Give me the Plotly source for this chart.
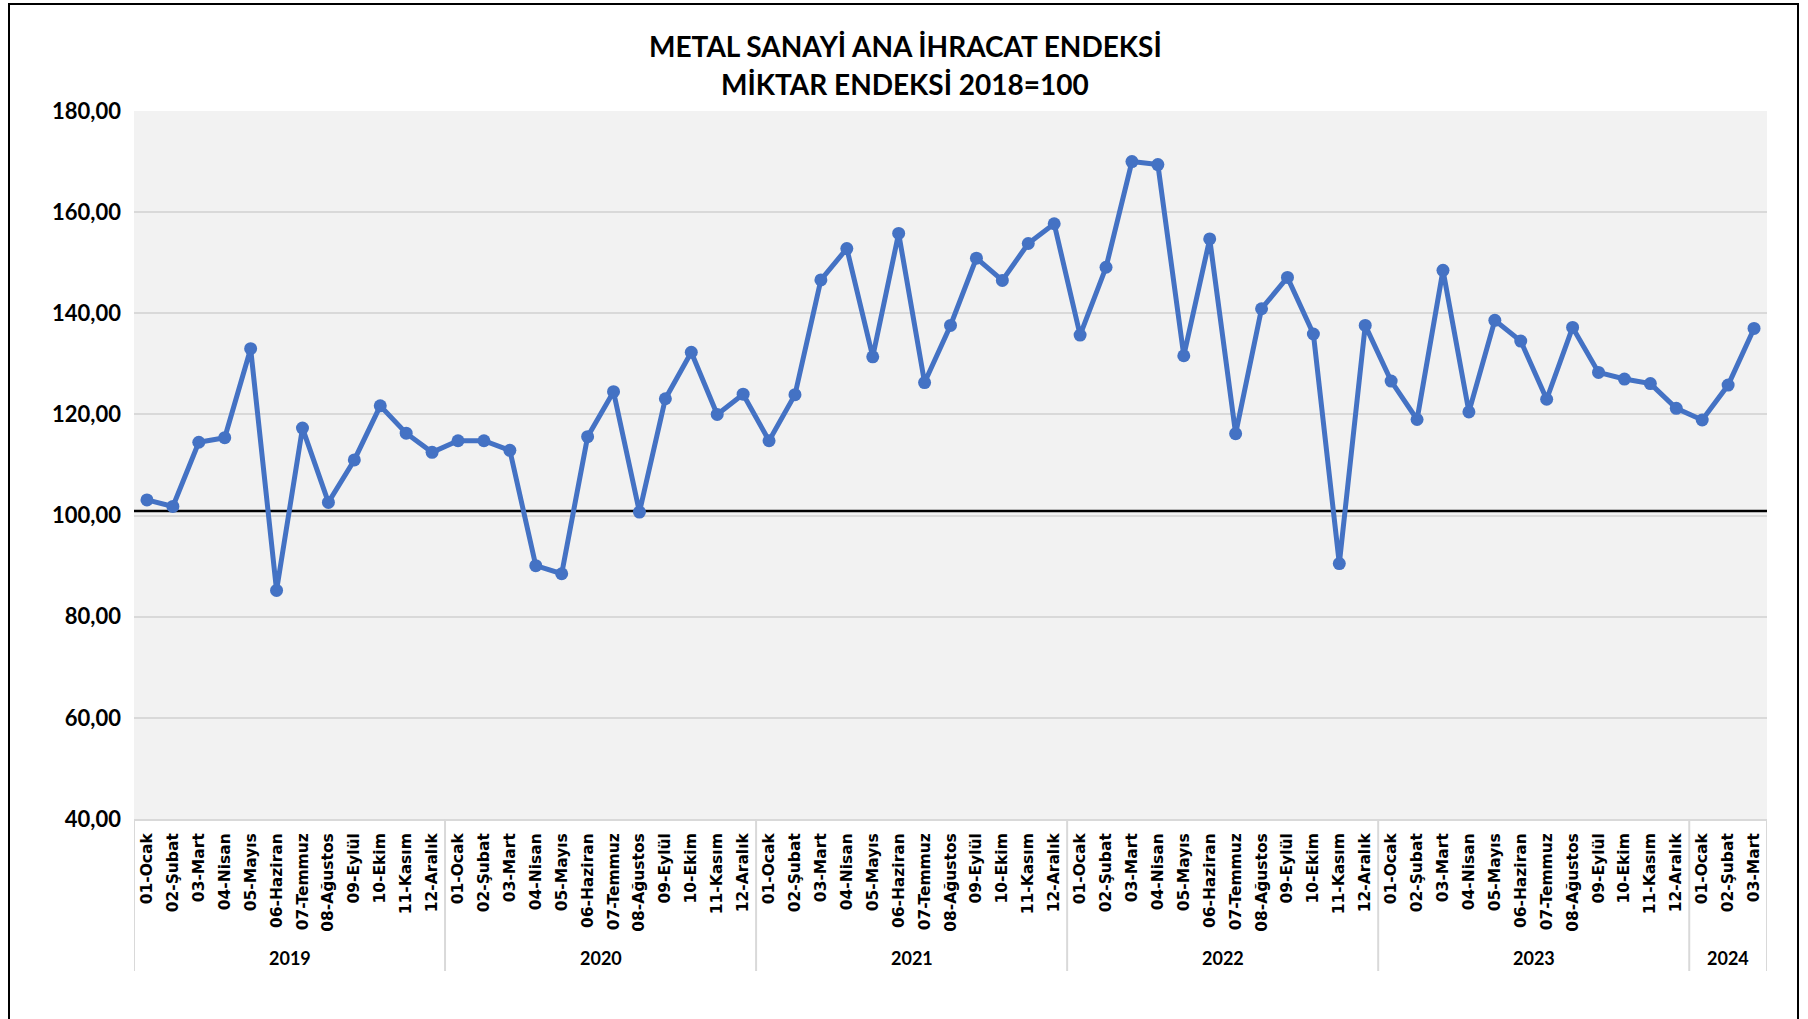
import plotly.graph_objects as go

# ---- data ----
title_line1 = "METAL SANAYİ ANA İHRACAT ENDEKSİ"
title_line2 = "MİKTAR ENDEKSİ 2018=100"

month_labels = ["01-Ocak", "02-Şubat", "03-Mart", "04-Nisan", "05-Mayıs", "06-Haziran",
                "07-Temmuz", "08-Ağustos", "09-Eylül", "10-Ekim", "11-Kasım", "12-Aralık"]
years = ["2019", "2020", "2021", "2022", "2023", "2024"]
months_per_year = [12, 12, 12, 12, 12, 3]

values_2019 = [103.1, 101.8, 114.5, 115.4, 133.0, 85.2, 117.3, 102.6, 111.0, 121.7, 116.3, 112.5]
values_2020 = [114.8, 114.8, 112.9, 90.1, 88.5, 115.6, 124.5, 100.7, 123.1, 132.3, 120.0, 124.0]
values_2021 = [114.8, 123.9, 146.6, 152.8, 131.4, 155.8, 126.3, 137.6, 150.9, 146.5, 153.8, 157.7]
values_2022 = [135.7, 149.1, 170.0, 169.4, 131.6, 154.7, 116.2, 140.9, 147.1, 135.9, 90.5, 137.6]
values_2023 = [126.6, 119.0, 148.5, 120.5, 138.6, 134.5, 123.0, 137.2, 128.3, 127.0, 126.1, 121.2]
values_2024 = [118.9, 125.8, 137.0]

baseline_value = 100.9
y_ticks = [40, 60, 80, 100, 120, 140, 160, 180]

# ---- build series ----
all_values = values_2019 + values_2020 + values_2021 + values_2022 + values_2023 + values_2024
tick_text = []
for yr, n in zip(years, months_per_year):
    tick_text += month_labels[:n]
x_idx = list(range(len(all_values)))

BLUE = "#4472C4"
GRID = "#D9D9D9"

fig = go.Figure()
fig.add_trace(go.Scatter(
    x=x_idx, y=all_values, mode="lines+markers",
    line=dict(color=BLUE, width=5),
    marker=dict(color=BLUE, size=13),
    hoverinfo="y", showlegend=False,
))

W, H = 1808, 1019
ml, mr, mt, mb = 134, 41, 111, 200
pw, ph = W - ml - mr, H - mt - mb
def px_x(p):
    return (p - ml) / pw
def px_y(p):
    return (H - mb - p) / ph

shapes = []
annotations = []

# baseline
shapes.append(dict(type="line", xref="paper", x0=0, x1=1, yref="y",
                   y0=baseline_value, y1=baseline_value,
                   line=dict(color="black", width=2.5), layer="between"))

# year group dividers and labels
start = 0
bounds = [start - 0.5]
for yr, n in zip(years, months_per_year):
    end = start + n
    bounds.append(end - 0.5)
    annotations.append(dict(x=(start + end - 1) / 2, xref="x", y=px_y(958), yref="paper",
                            text=f"<b>{yr}</b>", showarrow=False,
                            font=dict(family="Lato", size=18, color="black"),
                            xanchor="center", yanchor="middle"))
    start = end
for b in bounds:
    shapes.append(dict(type="line", xref="x", x0=b, x1=b, yref="paper", y0=0, y1=px_y(971),
                       line=dict(color=GRID, width=2), layer="above"))

# title (two centred lines, centred on the page)
for txt, ypx in ((title_line1, 46), (title_line2, 84)):
    annotations.append(dict(x=px_x(W / 2 + 1), xref="paper", xanchor="center",
                            y=px_y(ypx), yref="paper", yanchor="middle",
                            text=f"<b>{txt}</b>", showarrow=False,
                            font=dict(family="Lato", size=28, color="black")))

# outer frame
shapes.append(dict(type="rect", xref="paper", yref="paper",
                   x0=px_x(9), x1=px_x(1798), y0=px_y(1060), y1=px_y(4),
                   line=dict(color="black", width=2), fillcolor="rgba(0,0,0,0)", layer="above"))

fig.update_layout(
    width=W, height=H,
    margin=dict(l=ml, r=mr, t=mt, b=mb, autoexpand=False),
    paper_bgcolor="white",
    plot_bgcolor="#F2F2F2",
    separators=",.",
    shapes=shapes,
    annotations=annotations,
    xaxis=dict(
        range=[-0.5, len(all_values) - 0.5],
        tickmode="array", tickvals=x_idx, ticktext=[f"<b>{t}</b>" for t in tick_text],
        tickangle=-90,
        tickfont=dict(family="DejaVu Sans", size=15.5, color="black"),
        showgrid=False, zeroline=False,
        showline=True, linecolor=GRID, linewidth=2,
        ticks="", ticklabelstandoff=6,
        fixedrange=True,
    ),
    yaxis=dict(
        range=[40, 180],
        tickmode="array", tickvals=y_ticks,
        tickformat=".2f",
        tickfont=dict(family="Lato", size=22, color="black", weight="bold"),
        showgrid=True, gridcolor=GRID, gridwidth=1.5,
        zeroline=False, showline=False,
        ticks="", ticklabelstandoff=12,
        fixedrange=True,
    ),
)

fig.write_html("out.html",
               config={"displayModeBar": False},
               post_script="document.body.style.margin='0';document.body.style.overflow='hidden';")
